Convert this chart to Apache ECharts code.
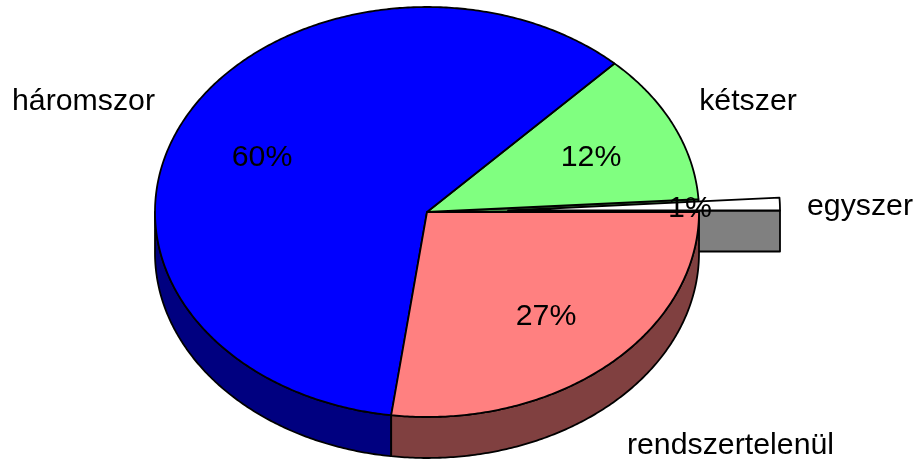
<!DOCTYPE html>
<html>
<head>
<meta charset="utf-8">
<style>html,body{margin:0;padding:0;background:#fff}#c{width:915px;height:459px}</style>
<script src="https://cdn.jsdelivr.net/npm/echarts@6/dist/echarts.min.js"></script>
</head>
<body>
<div id="c"></div>
<script>
const categories = ['egyszer', 'kétszer', 'háromszor', 'rendszertelenül'];
const values = [1, 11.9, 60, 27.1];
const exploded = ['egyszer'];
const topColors = ['#ffffff', '#80ff80', '#0000ff', '#ff8080'];
const sideColors = ['#808080', '#408040', '#000080', '#804040'];
const labelPos = [[860, 207], [748, 102], [83.5, 102], [730.5, 446]];
const percentPos = [[690, 209], [591, 158], [262, 158], [546, 317]];

const CX = 427, CY = 212, RX = 272, RY = 205, DEPTH = 41, EXPLODE_X = 81, EXPLODE_Y = -1.5;
const FONT = '"Liberation Sans", Arial, sans-serif';
const total = values.reduce((a, b) => a + b, 0);

function sliceOf(i) {
  let before = 0;
  for (let k = 0; k < i; k++) before += values[k];
  const a0 = before / total * Math.PI * 2;
  const a1 = (before + values[i]) / total * Math.PI * 2;
  const out = exploded.includes(categories[i]);
  return { a0, a1, cx: CX + (out ? EXPLODE_X : 0), cy: CY + (out ? EXPLODE_Y : 0) };
}
function pt(cx, cy, a, dy) {
  return [cx + RX * Math.cos(a), cy - RY * Math.sin(a) + (dy || 0)];
}
function arc(cx, cy, a0, a1, dy) {
  const n = Math.max(2, Math.ceil(Math.abs(a1 - a0) / 0.01));
  const out = [];
  for (let j = 0; j <= n; j++) out.push(pt(cx, cy, a0 + (a1 - a0) * j / n, dy));
  return out;
}
const line = { stroke: '#000', lineWidth: 1.8, lineJoin: 'round' };

function radialFace(i, a, cx, cy) {
  const p = pt(cx, cy, a), c = [cx, cy];
  return {
    type: 'polygon', silent: true,
    shape: { points: [c, p, [p[0], p[1] + DEPTH], [c[0], c[1] + DEPTH]] },
    style: Object.assign({ fill: sideColors[i] }, line)
  };
}
function renderWall(params, api) {
  const i = params.dataIndex;
  const { a0, a1, cx, cy } = sliceOf(i);
  if (exploded.includes(categories[i])) return radialFace(i, a0, cx, cy);
  const children = [];
  // The radial face of a slice is exposed when the neighbouring slice is pulled out.
  if (i > 0 && exploded.includes(categories[i - 1])) children.push(radialFace(i, a0, cx, cy));
  const lo = Math.max(a0, Math.PI), hi = Math.min(a1, Math.PI * 2);
  if (hi > lo) {
    children.push({
      type: 'polygon', silent: true,
      shape: { points: arc(cx, cy, lo, hi, 0).concat(arc(cx, cy, hi, lo, DEPTH)) },
      style: Object.assign({ fill: sideColors[i] }, line)
    });
  }
  return { type: 'group', silent: true, children };
}
function renderTop(params, api) {
  const i = params.dataIndex;
  const { a0, a1, cx, cy } = sliceOf(i);
  return {
    type: 'polygon', silent: true,
    z2: exploded.includes(categories[i]) ? 5 : 1,
    shape: { points: [[cx, cy]].concat(arc(cx, cy, a0, a1, 0)) },
    style: Object.assign({ fill: topColors[i] }, line)
  };
}
function renderText(params, api) {
  const i = params.dataIndex;
  const common = { fill: '#000', fontSize: 30.3, fontFamily: FONT, align: 'center', verticalAlign: 'middle' };
  return {
    type: 'group', silent: true,
    children: [
      { type: 'text', style: Object.assign({ x: labelPos[i][0], y: labelPos[i][1], text: categories[i] }, common) },
      { type: 'text', style: Object.assign({ x: percentPos[i][0], y: percentPos[i][1], text: Math.round(api.value(0)) + '%' }, common) }
    ]
  };
}
const chart = echarts.init(document.getElementById('c'), null, { renderer: 'canvas' });
chart.setOption({
  animation: false,
  backgroundColor: '#fff',
  series: [
    { type: 'custom', coordinateSystem: 'none', z: 1, data: values, renderItem: renderWall },
    { type: 'custom', coordinateSystem: 'none', z: 2, data: values, renderItem: renderTop },
    { type: 'custom', coordinateSystem: 'none', z: 3, data: values, renderItem: renderText }
  ]
});
</script>
</body>
</html>
